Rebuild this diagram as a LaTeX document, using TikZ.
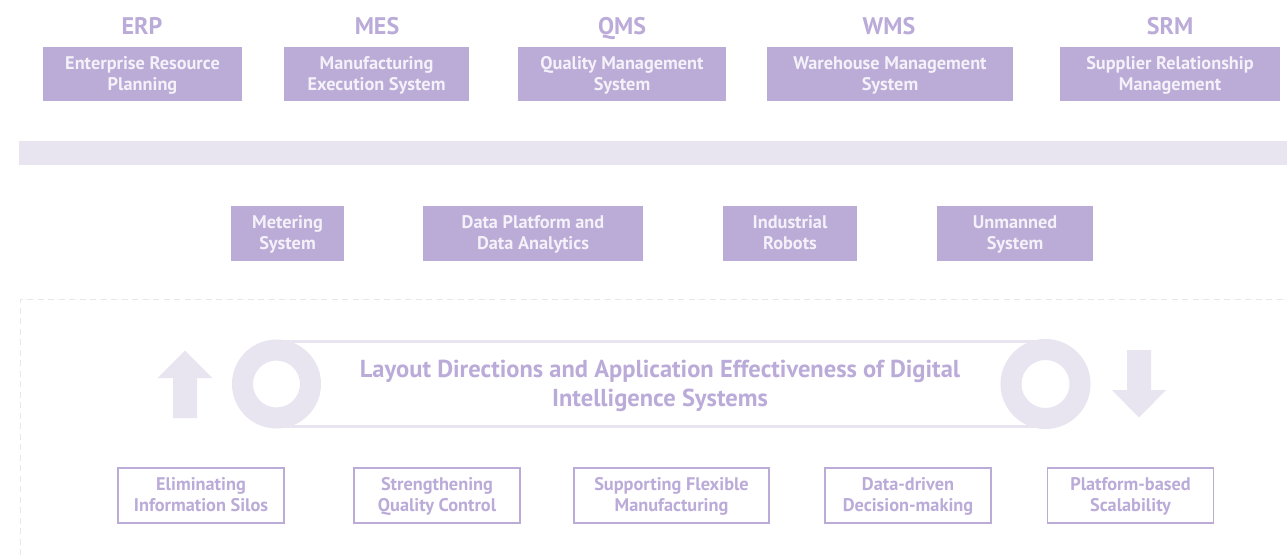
\documentclass[tikz,border=0pt]{standalone}
\usepackage{fontspec}
\setmainfont{PT Sans}
\definecolor{lav}{HTML}{BBABD7}
\definecolor{lavtext}{HTML}{BBABD9}
\definecolor{pale}{HTML}{E8E5F1}
\definecolor{boxtext}{HTML}{F4F1F9}
\definecolor{dashgray}{HTML}{E6E6EC}
\begin{document}
\begin{tikzpicture}[x=1pt,y=-1pt,
  header/.style={text=lavtext,font=\fontsize{24}{26}\selectfont\bfseries,inner sep=0pt,anchor=base},
  sysbox/.style={fill=lav,text=boxtext,align=center,inner sep=0pt,text height=34pt,text depth=2pt,
    font=\fontsize{18.3}{21}\selectfont\bfseries},
  effbox/.style={draw=lav,line width=1.3pt,fill=white,text=lavtext,align=center,inner sep=0pt,
    text height=34pt,text depth=2pt,minimum width=166pt,minimum height=55pt,
    font=\fontsize{18.3}{21}\selectfont\bfseries},
  ring/.style={fill=pale,even odd rule},
  belt/.style={draw=pale,line width=2.6pt}]
\useasboundingbox (0,0) rectangle (1287,555);
\fill[white] (0,0) rectangle (1287,555);

% top row: enterprise systems
\node[header] (erpT) at (142,34.5) {ERP};
\node[header] (mesT) at (377,34.5) {MES};
\node[header] (qmsT) at (622,34.5) {QMS};
\node[header] (wmsT) at (889,34.5) {WMS};
\node[header] (srmT) at (1170,34.5) {SRM};
\node[sysbox,minimum width=199pt,minimum height=54pt] (erp) at (142.5,74) {Enterprise Resource\\Planning};
\node[sysbox,minimum width=185pt,minimum height=54pt] (mes) at (376.5,74) {Manufacturing\\Execution System};
\node[sysbox,minimum width=208pt,minimum height=54pt] (qms) at (622,74) {Quality Management\\System};
\node[sysbox,minimum width=246pt,minimum height=54pt] (wms) at (890,74) {Warehouse Management\\System};
\node[sysbox,minimum width=220pt,minimum height=54pt] (srm) at (1170,74) {Supplier Relationship\\Management};

% integration band
\fill[pale] (19,141) rectangle (1287,164.5);

% middle row: supporting systems
\node[sysbox,minimum width=113pt,minimum height=55pt] (meter) at (287.5,233.5) {Metering\\System};
\node[sysbox,minimum width=220pt,minimum height=55pt] (data) at (533,233.5) {Data Platform and\\Data Analytics};
\node[sysbox,minimum width=134pt,minimum height=55pt] (robot) at (790,233.5) {Industrial\\Robots};
\node[sysbox,minimum width=156pt,minimum height=55pt] (unman) at (1015,233.5) {Unmanned\\System};

% dashed frame of the lower panel
\draw[dashgray,line width=1pt,dash pattern=on 6pt off 4.5pt] (20.5,555) -- (20.5,299) -- (1287,299);

% belt with two pulleys
\coordinate (pl) at (276.5,384);
\coordinate (pr) at (1045.5,384);
\draw[belt] (276.5,341.3) -- (1045.5,341.3);
\draw[belt] (276.5,426.7) -- (1045.5,426.7);
\fill[ring] (pl) circle (44.5) (pl) circle (23.5);
\fill[ring] (pr) circle (45) (pr) circle (24);

% direction arrows
\fill[pale] (185,350.5) -- (212.5,378) -- (197,378) -- (197,418) -- (173,418) -- (173,378) -- (157.5,378) -- cycle;
\fill[pale] (1139,417.5) -- (1166,390) -- (1151,390) -- (1151,350) -- (1127,350) -- (1127,390) -- (1112,390) -- cycle;

\node[text=lavtext,align=center,inner sep=0pt,font=\fontsize{24.5}{29}\selectfont\bfseries] (title) at (660,386)
  {Layout Directions and Application Effectiveness of Digital\\Intelligence Systems};

% bottom row: effectiveness
\node[effbox] (e1) at (201,495.5) {Eliminating\\Information Silos};
\node[effbox] (e2) at (437,495.5) {Strengthening\\Quality Control};
\node[effbox,minimum width=195pt] (e3) at (671.5,495.5) {Supporting Flexible\\Manufacturing};
\node[effbox] (e4) at (908,495.5) {Data-driven\\Decision-making};
\node[effbox] (e5) at (1130.5,495.5) {Platform-based\\Scalability};
\end{tikzpicture}
\end{document}
